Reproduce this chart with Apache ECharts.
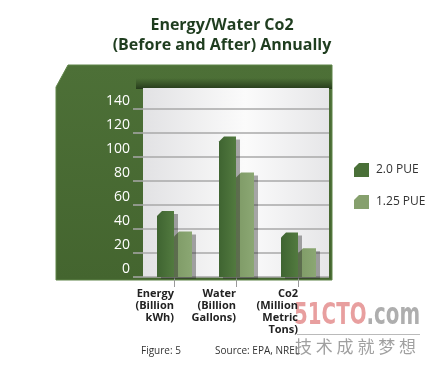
<!DOCTYPE html>
<html><head><meta charset="utf-8">
<script src="https://cdn.jsdelivr.net/npm/echarts@6/dist/echarts.min.js"></script>
<style>html,body{margin:0;padding:0;background:#fff}#c{width:427px;height:365px}</style>
</head><body><div id="c"></div>
<script>
const categories = ['Energy\n(Billion\nkWh)', 'Water\n(Billion\nGallons)', 'Co2\n(Million\nMetric\nTons)'];
const pue20 = [55, 117, 37];
const pue125 = [38, 87, 24];
const yTicks = [0, 20, 40, 60, 80, 100, 120, 140];
const seriesNames = ['2.0 PUE', '1.25 PUE'];

const chart = echarts.init(document.getElementById('c'), null, {renderer: 'canvas'});
const FONT = '"Open Sans", "Noto Sans", sans-serif';

function makeRender(side, color, w) {
  return function (params, api) {
    const top = api.coord([api.value(0), api.value(1)]);
    const base = api.coord([api.value(0), 0]);
    const x0 = side < 0 ? top[0] - w : top[0];
    const x1 = side < 0 ? top[0] : top[0] + w;
    const y = top[1], b = base[1];
    const ch = 5;
    return {
      type: 'group',
      children: [
        {type: 'polygon', shape: {points: [[x0 + 4, y + ch + 3], [x0 + ch + 4, y + 3], [x1 + 4, y + 3], [x1 + 4, b + 2], [x0 + 4, b + 2]]},
         style: {fill: 'rgba(40,40,40,0.4)'}, z2: 1},
        {type: 'polygon', shape: {points: [[x0, y + ch], [x0 + ch, y], [x1, y], [x1, b], [x0, b]]},
         style: {fill: color}, z2: 2}
      ]
    };
  };
}

const darkFill = new echarts.graphic.LinearGradient(0, 0, 1, 0, [{offset: 0, color: '#3f6431'}, {offset: 1, color: '#527a3f'}]);
const lightFill = new echarts.graphic.LinearGradient(0, 0, 1, 0, [{offset: 0, color: '#7e9a66'}, {offset: 1, color: '#8ba773'}]);
const WM = '"DejaVu Sans", sans-serif';

chart.setOption({
  animation: false,
  title: {
    text: 'Energy/Water Co2\n(Before and After) Annually',
    left: 217, top: 10, textAlign: 'center',
    textStyle: {fontFamily: FONT, fontWeight: 'bold', fontSize: 16, lineHeight: 20, color: '#1f3d1f'}
  },
  graphic: [
    {type: 'polygon', shape: {points: [[56, 87], [68, 65], [332, 65], [332, 280], [56, 280]]},
     style: {fill: new echarts.graphic.LinearGradient(0, 0, 0, 1, [{offset: 0, color: '#4d7037'}, {offset: 1, color: '#44652f'}]), stroke: '#5f8448', lineWidth: 1}, z: -10},
    {type: 'rect', shape: {x: 136, y: 78, width: 196, height: 11},
     style: {fill: new echarts.graphic.LinearGradient(0, 0, 0, 1, [{offset: 0, color: 'rgba(30,50,20,0)'}, {offset: 1, color: 'rgba(25,40,18,0.75)'}])}, z: -9},
    {type: 'rect', shape: {x: 143, y: 88, width: 186, height: 189},
     style: {fill: new echarts.graphic.LinearGradient(0, 0, 1, 0, [{offset: 0, color: '#e2e2e4'}, {offset: 0.55, color: '#fbfbfb'}, {offset: 1, color: '#e6e6e8'}])}, z: -8},
    {type: 'text', left: 141, top: 346, style: {text: 'Figure: 5', fontFamily: FONT, fontSize: 10, fill: '#333'}},
    {type: 'text', left: 215, top: 346, style: {text: 'Source: EPA, NREL', fontFamily: FONT, fontSize: 10, fill: '#333'}},
    {type: 'group', x: 294, y: 300, scaleX: 0.64, scaleY: 1, children: [
      {type: 'text', x: 0, y: 0, style: {rich: {a: {fontFamily: WM, fontWeight: 'bold', fontSize: 31, fill: 'rgba(214,80,80,0.55)'}, b: {fontFamily: WM, fontWeight: 'bold', fontSize: 31, fill: 'rgba(120,120,120,0.6)'}}, text: '{a|51CTO}{b|.com}'}}
    ]},
    {type: 'rect', shape: {x: 297, y: 334, width: 123, height: 1}, style: {fill: 'rgba(140,140,140,0.6)'}},
    {type: 'text', left: 295, top: 338, style: {text: '技 术 成 就 梦 想', fontFamily: '"Noto Sans CJK SC", sans-serif', fontSize: 17, fill: 'rgba(120,120,120,0.7)'}}
  ],
  legend: {
    orient: 'vertical', left: 349, top: 158, itemWidth: 15, itemHeight: 14, itemGap: 18,
    textStyle: {fontFamily: FONT, fontSize: 12, color: '#333', padding: [0, 0, 0, 2]},
    data: [
      {name: seriesNames[0], icon: 'path://M5,0 L15,0 L15,14 L0,14 L0,5 Z'},
      {name: seriesNames[1], icon: 'path://M5,0 L15,0 L15,14 L0,14 L0,5 Z'}
    ]
  },
  grid: {left: 143, right: 98, top: 109, bottom: 88, containLabel: false},
  xAxis: {
    type: 'category', data: categories,
    axisLine: {show: false},
    axisTick: {show: true, alignWithLabel: true, length: 10, lineStyle: {color: '#9a9a9a', width: 1}},
    axisLabel: {align: 'right', margin: 11, interval: 0, fontFamily: FONT, fontWeight: 'bold', fontSize: 11, lineHeight: 12, color: '#222'},
    splitLine: {show: false}
  },
  yAxis: {
    type: 'value', min: yTicks[0], max: yTicks[yTicks.length - 1], interval: 20,
    axisLine: {show: false},
    axisTick: {show: true, length: 10, lineStyle: {color: '#a8a8a8', width: 1.5}},
    axisLabel: {margin: 13, verticalAlign: 'bottom', lineHeight: 16, fontFamily: FONT, fontSize: 14, color: '#ffffff'},
    splitLine: {show: true, lineStyle: {color: '#a8a8a8', width: 1.5}}
  },
  series: [
    {name: seriesNames[0], type: 'custom', itemStyle: {color: '#4a7038'}, renderItem: makeRender(-1, darkFill, 17),
     data: pue20.map((v, i) => [i, v]), encode: {x: 0, y: 1}, z: 5},
    {name: seriesNames[1], type: 'custom', itemStyle: {color: '#86a06d'}, renderItem: makeRender(1, lightFill, 18),
     data: pue125.map((v, i) => [i, v]), encode: {x: 0, y: 1}, z: 4}
  ]
});
</script></body></html>
